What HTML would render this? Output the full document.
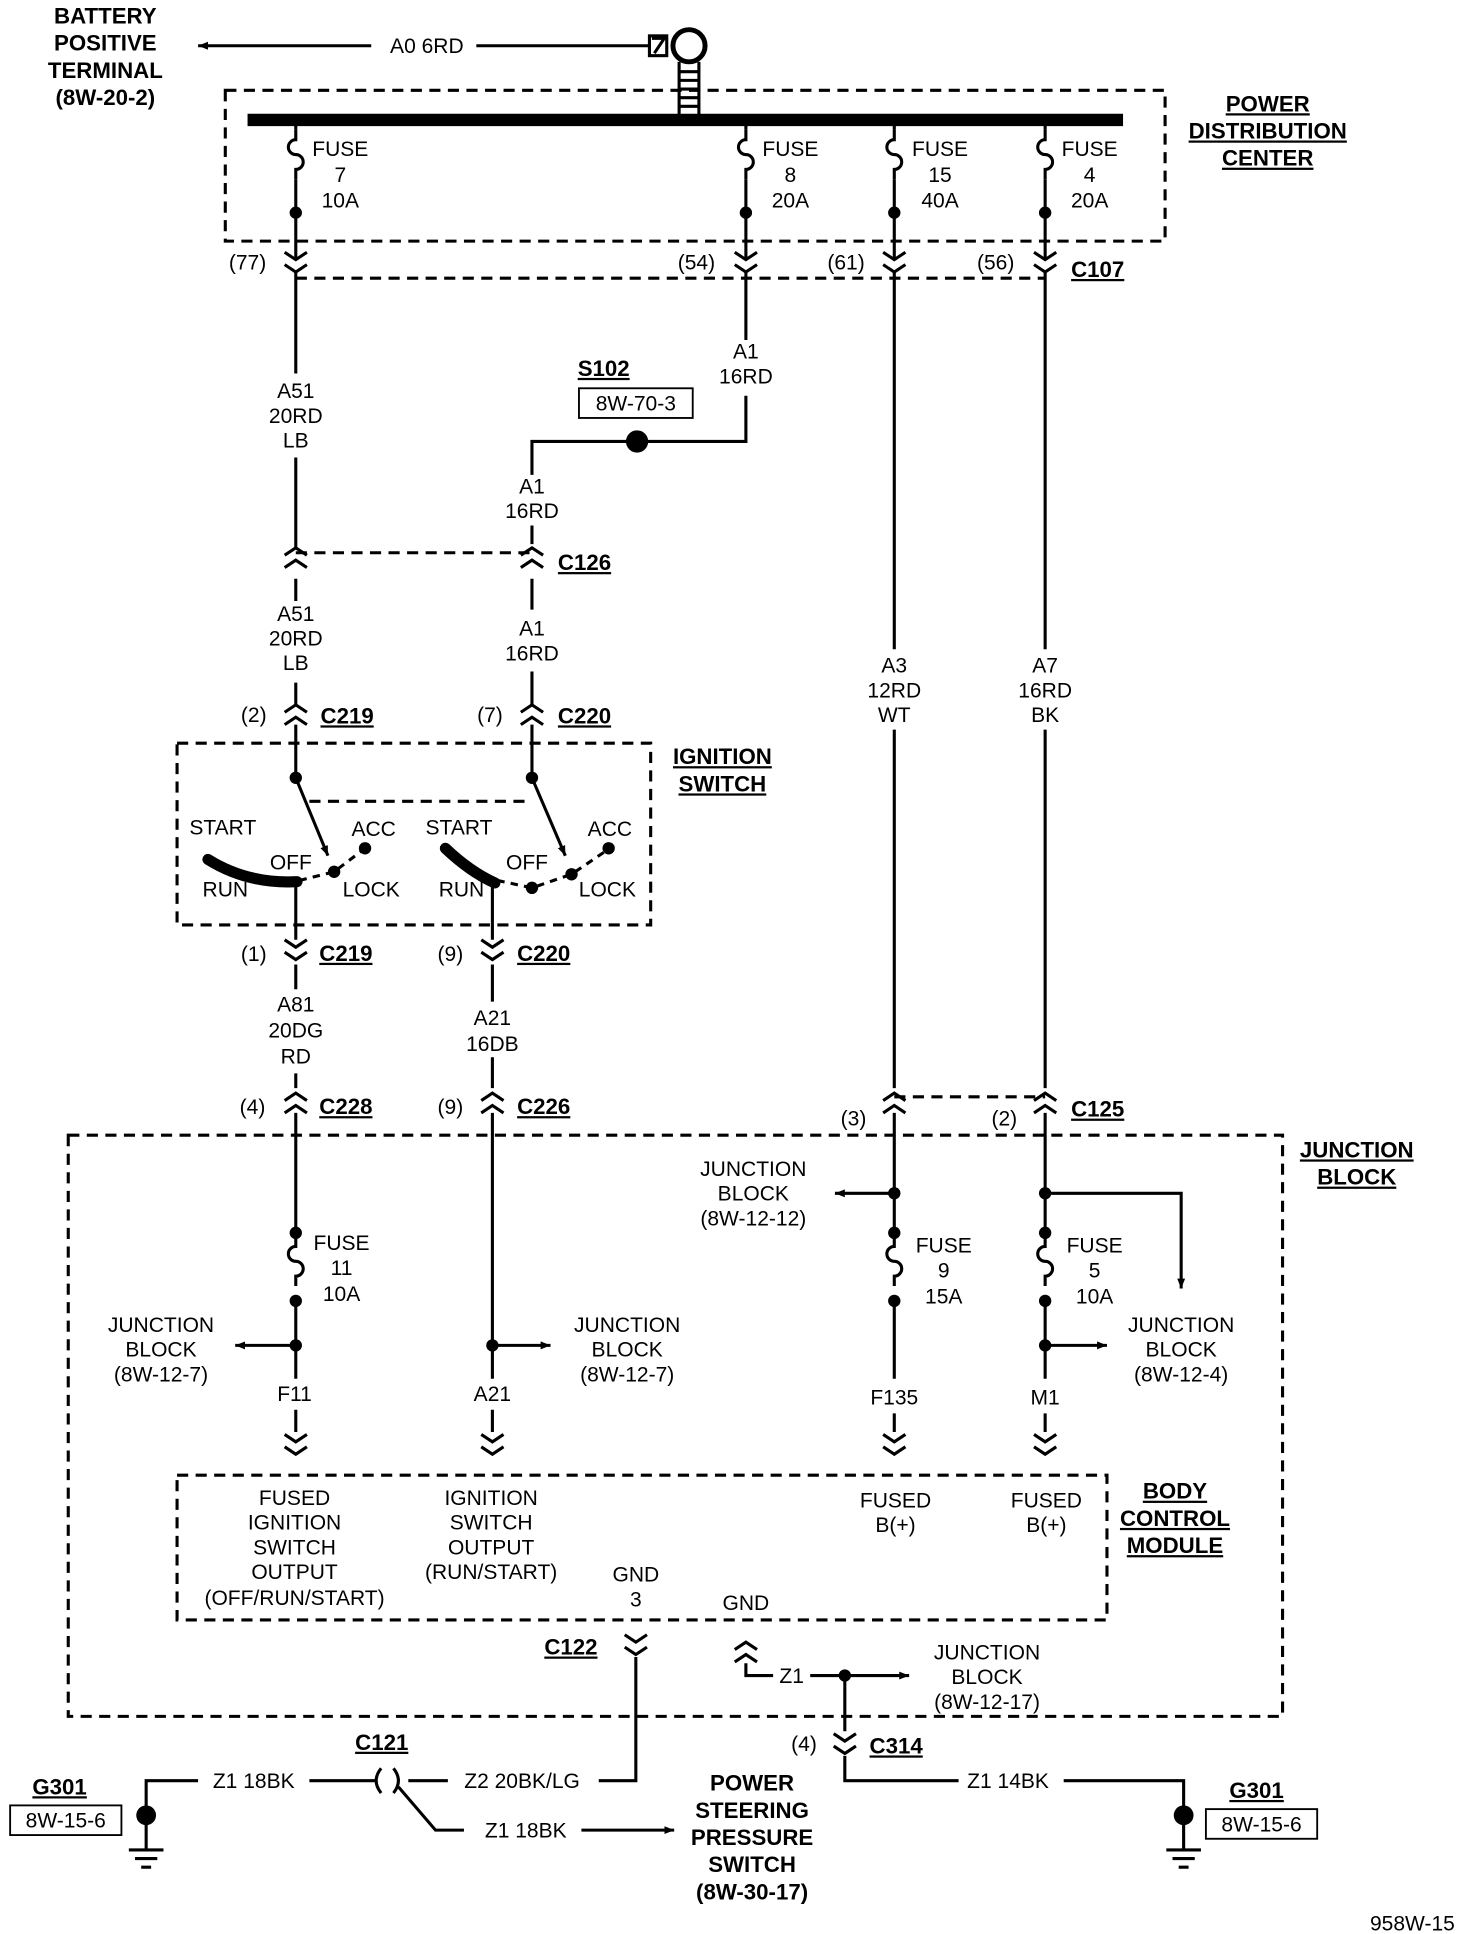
<!DOCTYPE html>
<html><head><meta charset="utf-8"><style>
html,body{margin:0;padding:0;background:#fff}
svg{display:block}
text{font-family:"Liberation Sans",sans-serif;font-size:17px;fill:#000}
.b{font-weight:bold;font-size:18px}
.m{text-anchor:middle}
</style></head><body>
<svg width="1472" height="1934" viewBox="0 0 1190 1564" xmlns="http://www.w3.org/2000/svg">
<defs>
<marker id="ar" viewBox="0 0 10 10" refX="10" refY="5" markerWidth="8" markerHeight="8" orient="auto-start-reverse" markerUnits="userSpaceOnUse"><path d="M0 1L10 5L0 9z"/></marker>
<g id="cd"><path d="M-9 -6L0 0L9 -6M-9 4L0 10L9 4" fill="none" stroke="#000" stroke-width="2.5"/></g>
<g id="cu"><path d="M-9 6L0 0L9 6M-9 16L0 10L9 16" fill="none" stroke="#000" stroke-width="2.5"/></g>
<g id="fz"><path d="M0 0v8a6 6 0 0 0 0 12a6 6 0 0 1 0 12v8" fill="none" stroke="#000" stroke-width="2.5"/></g>
<g id="gnd"><path d="M0 0v28M-14 28h28M-9 35h18M-4 42h8" stroke="#000" stroke-width="2.5" fill="none"/><circle cx="0" cy="0" r="8"/></g>
</defs>
<g stroke="#000" stroke-width="2.5" fill="none">
<path d="M300 37H160" marker-end="url(#ar)"/>
<path d="M385 37H525"/>
<rect x="525" y="29" width="14" height="16"/>
<path d="M527 31h10l-8 12"/>
<circle cx="557" cy="37" r="13" stroke-width="4"/>
<path d="M549 50v45M565 50v45M548 58h18M548 65h18M548 72h18M548 79h18M548 86h18"/>
<path d="M200 97H908" stroke-width="10"/>
<rect x="182" y="73" width="760" height="122" stroke-dasharray="9 6"/>
<path d="M239 225H845" stroke-dasharray="9 6"/>
<path d="M239 447H430" stroke-dasharray="9 6"/>
<path d="M723 887H845" stroke-dasharray="9 6"/>
<rect x="143" y="601" width="383" height="147" stroke-dasharray="9 6"/>
<path d="M250 648H430" stroke-dasharray="9 6"/>
<rect x="55" y="918" width="982" height="470" stroke-dasharray="9 6"/>
<rect x="143" y="1193" width="752" height="117" stroke-dasharray="9 6"/>
<path d="M239 97v8M239 145v65M239 220v82M239 370v73M239 468v18M239 552v18M239 586v43"/>
<path d="M603 97v8M603 145v65M603 220v55M603 320v37H430v27M430 425v15M430 468v25M430 543v27M430 586v43"/>
<path d="M723 97v8M723 145v65M723 220v305M723 590v290M723 900v95M723 1052v63M723 1143v15"/>
<path d="M845 97v8M845 145v65M845 220v305M845 590v290M845 900v95M845 1052v63M845 1143v15"/>
<path d="M239 715v45M239 780v20M239 868v12M239 900v95M239 1052v63M239 1140v18"/>
<path d="M398 715v45M398 780v30M398 855v25M398 900v215M398 1140v18"/>
<path d="M239 1088H190" marker-end="url(#ar)"/>
<path d="M398 1088H445" marker-end="url(#ar)"/>
<path d="M723 965H675" marker-end="url(#ar)"/>
<path d="M845 965H955V1042" marker-end="url(#ar)"/>
<path d="M845 1088H895" marker-end="url(#ar)"/>
<path d="M239 629L265 692" marker-end="url(#ar)"/>
<path d="M430 629L457 692" marker-end="url(#ar)"/>
<path d="M168 695Q200 715 240 713" stroke-width="9" stroke-linecap="round"/>
<path d="M360 686Q380 705 400 714" stroke-width="9" stroke-linecap="round"/>
<path d="M242 712L270 705L295 686" stroke-dasharray="6 5"/>
<path d="M402 712L430 718L462 707L490 688" stroke-dasharray="6 5"/>
<path d="M514 1340V1440H484M362 1440H330"/>
<path d="M318 1430Q326 1440 318 1450M308 1430Q300 1440 308 1450"/>
<path d="M305 1440H250M160 1440H118V1468"/>
<path d="M322 1445L352 1480H375M470 1480H545" marker-end="url(#ar)"/>
<path d="M603 1345V1355H625M655 1355H735" marker-end="url(#ar)"/>
<path d="M683 1355V1400M683 1420V1440H775M860 1440H957V1468"/>
</g>
<g>
<use href="#fz" x="239" y="105"/><use href="#fz" x="603" y="105"/><use href="#fz" x="723" y="105"/><use href="#fz" x="845" y="105"/>
<use href="#fz" x="239" y="1000"/><use href="#fz" x="723" y="1000"/><use href="#fz" x="845" y="1000"/>
<use href="#cd" x="239" y="210"/><use href="#cd" x="603" y="210"/><use href="#cd" x="723" y="210"/><use href="#cd" x="845" y="210"/>
<use href="#cu" x="239" y="443"/><use href="#cu" x="430" y="443"/>
<use href="#cu" x="239" y="570"/><use href="#cu" x="430" y="570"/>
<use href="#cd" x="239" y="766"/><use href="#cd" x="398" y="766"/>
<use href="#cu" x="239" y="884"/><use href="#cu" x="398" y="884"/>
<use href="#cu" x="723" y="884"/><use href="#cu" x="845" y="884"/>
<use href="#cd" x="239" y="1166"/><use href="#cd" x="398" y="1166"/><use href="#cd" x="723" y="1166"/><use href="#cd" x="845" y="1166"/>
<use href="#cd" x="514" y="1328"/><use href="#cu" x="603" y="1328"/><use href="#cd" x="683" y="1408"/>
<circle cx="239" cy="172" r="5"/><circle cx="603" cy="172" r="5"/><circle cx="723" cy="172" r="5"/><circle cx="845" cy="172" r="5"/>
<circle cx="515" cy="357" r="9"/>
<circle cx="239" cy="629" r="5"/><circle cx="430" cy="629" r="5"/>
<circle cx="270" cy="705" r="5"/><circle cx="295" cy="686" r="5"/>
<circle cx="430" cy="718" r="5"/><circle cx="462" cy="707" r="5"/><circle cx="492" cy="686" r="5"/>
<circle cx="239" cy="997" r="5"/><circle cx="239" cy="1052" r="5"/><circle cx="239" cy="1088" r="5"/>
<circle cx="398" cy="1088" r="5"/>
<circle cx="723" cy="965" r="5"/><circle cx="723" cy="997" r="5"/><circle cx="723" cy="1052" r="5"/>
<circle cx="845" cy="965" r="5"/><circle cx="845" cy="997" r="5"/><circle cx="845" cy="1052" r="5"/><circle cx="845" cy="1088" r="5"/>
<circle cx="683" cy="1355" r="5"/>
<use href="#gnd" x="118" y="1468"/><use href="#gnd" x="957" y="1468"/>
</g>
<rect x="468" y="314" width="92" height="24" fill="none" stroke="#000" stroke-width="1.5"/>
<rect x="8" y="1460" width="90" height="24" fill="none" stroke="#000" stroke-width="1.5"/>
<rect x="975" y="1463" width="90" height="24" fill="none" stroke="#000" stroke-width="1.5"/>
<g class="b m">
<text x="85" y="19" class="b m">BATTERY</text><text x="85" y="41" class="b m">POSITIVE</text><text x="85" y="63" class="b m">TERMINAL</text><text x="85" y="85" class="b m">(8W-20-2)</text>
<text x="1025" y="90" class="b m" text-decoration="underline">POWER</text><text x="1025" y="112" class="b m" text-decoration="underline">DISTRIBUTION</text><text x="1025" y="134" class="b m" text-decoration="underline">CENTER</text>
<text x="584" y="618" class="b m" text-decoration="underline">IGNITION</text><text x="584" y="640" class="b m" text-decoration="underline">SWITCH</text>
<text x="1097" y="936" class="b m" text-decoration="underline">JUNCTION</text><text x="1097" y="958" class="b m" text-decoration="underline">BLOCK</text>
<text x="950" y="1212" class="b m" text-decoration="underline">BODY</text><text x="950" y="1234" class="b m" text-decoration="underline">CONTROL</text><text x="950" y="1256" class="b m" text-decoration="underline">MODULE</text>
<text x="608" y="1448" class="b m">POWER</text><text x="608" y="1470" class="b m">STEERING</text><text x="608" y="1492" class="b m">PRESSURE</text><text x="608" y="1514" class="b m">SWITCH</text><text x="608" y="1536" class="b m">(8W-30-17)</text>
</g>
<g class="b" text-decoration="underline">
<text x="866" y="224" class="b">C107</text><text x="488" y="304" class="b m" text-anchor="middle">S102</text>
<text x="451" y="461" class="b">C126</text><text x="259" y="585" class="b">C219</text><text x="451" y="585" class="b">C220</text>
<text x="258" y="777" class="b">C219</text><text x="418" y="777" class="b">C220</text>
<text x="258" y="901" class="b">C228</text><text x="418" y="901" class="b">C226</text><text x="866" y="903" class="b">C125</text>
<text x="440" y="1338" class="b">C122</text><text x="287" y="1415" class="b">C121</text><text x="703" y="1418" class="b">C314</text>
<text x="26" y="1451" class="b">G301</text><text x="994" y="1454" class="b">G301</text>
</g>
<g class="m">
<text x="345" y="43" class="m">A0 6RD</text>
<text x="514" y="332" class="m">8W-70-3</text>
<text x="53" y="1478" class="m">8W-15-6</text><text x="1020" y="1481" class="m">8W-15-6</text>
<text x="275" y="126">FUSE</text><text x="275" y="147">7</text><text x="275" y="168">10A</text>
<text x="639" y="126" class="m">FUSE</text><text x="639" y="147" class="m">8</text><text x="639" y="168" class="m">20A</text>
<text x="760" y="126" class="m">FUSE</text><text x="760" y="147" class="m">15</text><text x="760" y="168" class="m">40A</text>
<text x="881" y="126" class="m">FUSE</text><text x="881" y="147" class="m">4</text><text x="881" y="168" class="m">20A</text>
<text x="200" y="218" class="m">(77)</text><text x="563" y="218" class="m">(54)</text><text x="684" y="218" class="m">(61)</text><text x="805" y="218" class="m">(56)</text>
<text x="239" y="322" class="m">A51</text><text x="239" y="342" class="m">20RD</text><text x="239" y="362" class="m">LB</text>
<text x="603" y="290" class="m">A1</text><text x="603" y="310" class="m">16RD</text>
<text x="430" y="399" class="m">A1</text><text x="430" y="419" class="m">16RD</text>
<text x="239" y="502" class="m">A51</text><text x="239" y="522" class="m">20RD</text><text x="239" y="542" class="m">LB</text>
<text x="430" y="514" class="m">A1</text><text x="430" y="534" class="m">16RD</text>
<text x="723" y="544" class="m">A3</text><text x="723" y="564" class="m">12RD</text><text x="723" y="584" class="m">WT</text>
<text x="845" y="544" class="m">A7</text><text x="845" y="564" class="m">16RD</text><text x="845" y="584" class="m">BK</text>
<text x="205" y="584" class="m">(2)</text><text x="396" y="584" class="m">(7)</text>
<text x="180" y="675" class="m">START</text><text x="302" y="676" class="m">ACC</text><text x="235" y="703" class="m">OFF</text><text x="182" y="725" class="m">RUN</text><text x="300" y="725" class="m">LOCK</text>
<text x="371" y="675" class="m">START</text><text x="493" y="676" class="m">ACC</text><text x="426" y="703" class="m">OFF</text><text x="373" y="725" class="m">RUN</text><text x="491" y="725" class="m">LOCK</text>
<text x="205" y="777" class="m">(1)</text><text x="364" y="777" class="m">(9)</text>
<text x="239" y="818" class="m">A81</text><text x="239" y="839" class="m">20DG</text><text x="239" y="860" class="m">RD</text>
<text x="398" y="829" class="m">A21</text><text x="398" y="850" class="m">16DB</text>
<text x="204" y="901" class="m">(4)</text><text x="364" y="901" class="m">(9)</text><text x="690" y="910" class="m">(3)</text><text x="812" y="910" class="m">(2)</text>
<text x="609" y="951" class="m">JUNCTION</text><text x="609" y="971" class="m">BLOCK</text><text x="609" y="991" class="m">(8W-12-12)</text>
<text x="276" y="1011" class="m">FUSE</text><text x="276" y="1031" class="m">11</text><text x="276" y="1052" class="m">10A</text>
<text x="763" y="1013" class="m">FUSE</text><text x="763" y="1033" class="m">9</text><text x="763" y="1054" class="m">15A</text>
<text x="885" y="1013" class="m">FUSE</text><text x="885" y="1033" class="m">5</text><text x="885" y="1054" class="m">10A</text>
<text x="130" y="1077" class="m">JUNCTION</text><text x="130" y="1097" class="m">BLOCK</text><text x="130" y="1117" class="m">(8W-12-7)</text>
<text x="507" y="1077" class="m">JUNCTION</text><text x="507" y="1097" class="m">BLOCK</text><text x="507" y="1117" class="m">(8W-12-7)</text>
<text x="955" y="1077" class="m">JUNCTION</text><text x="955" y="1097" class="m">BLOCK</text><text x="955" y="1117" class="m">(8W-12-4)</text>
<text x="238" y="1133" class="m">F11</text><text x="398" y="1133" class="m">A21</text><text x="723" y="1136" class="m">F135</text><text x="845" y="1136" class="m">M1</text>
<text x="238" y="1217" class="m">FUSED</text><text x="238" y="1237" class="m">IGNITION</text><text x="238" y="1257" class="m">SWITCH</text><text x="238" y="1277" class="m">OUTPUT</text><text x="238" y="1298" class="m">(OFF/RUN/START)</text>
<text x="397" y="1217" class="m">IGNITION</text><text x="397" y="1237" class="m">SWITCH</text><text x="397" y="1257" class="m">OUTPUT</text><text x="397" y="1277" class="m">(RUN/START)</text>
<text x="724" y="1219" class="m">FUSED</text><text x="724" y="1239" class="m">B(+)</text><text x="846" y="1219" class="m">FUSED</text><text x="846" y="1239" class="m">B(+)</text>
<text x="514" y="1279" class="m">GND</text><text x="514" y="1299" class="m">3</text><text x="603" y="1302" class="m">GND</text>
<text x="640" y="1361" class="m">Z1</text>
<text x="798" y="1342" class="m">JUNCTION</text><text x="798" y="1362" class="m">BLOCK</text><text x="798" y="1382" class="m">(8W-12-17)</text>
<text x="650" y="1416" class="m">(4)</text>
<text x="205" y="1446" class="m">Z1 18BK</text><text x="422" y="1446" class="m">Z2 20BK/LG</text><text x="425" y="1486" class="m">Z1 18BK</text><text x="815" y="1446" class="m">Z1 14BK</text>
<text x="1142" y="1561" class="m">958W-15</text>
</g>
</svg>
</body></html>
